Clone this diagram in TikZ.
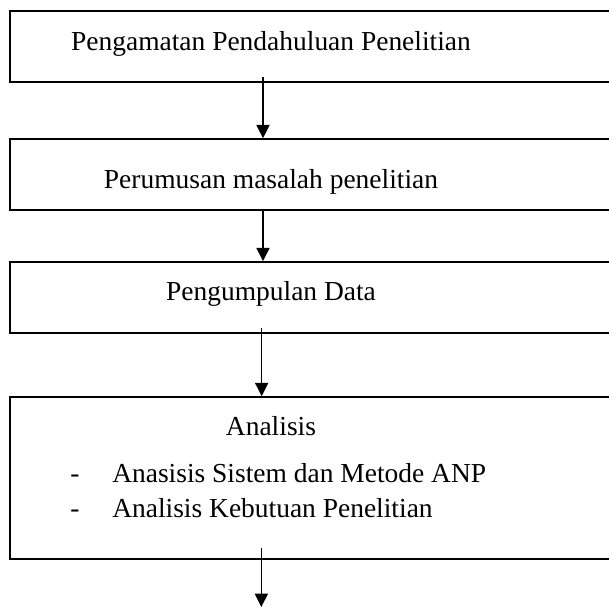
\documentclass[tikz,border=0pt]{standalone}
\usepackage{fontspec}
\setmainfont{Liberation Serif}
\usepackage{tikz}
\usetikzlibrary{arrows.meta,positioning,calc}

\begin{document}
\begin{tikzpicture}[
    >={Triangle[length=10pt,width=9.8pt]},
    font=\fontsize{20.6}{24}\selectfont,
    box/.style={draw, line width=1.2pt, minimum width=482.5pt,
      minimum height=53.25pt, inner sep=0pt},
    tall/.style={box, minimum height=121.5pt},
    lbl/.style={anchor=base, inner sep=0pt},
    item/.style={anchor=base west, inner sep=0pt},
    arr/.style={->, line width=1.2pt},
  ]
  \useasboundingbox (0pt,0pt) rectangle (456.75pt,-455.25pt);

  % Boxes
  \node[box] (obs) at (248.75pt,-34.9pt) {};
  \node[box] (rum) at (248.75pt,-130.9pt) {};
  \node[box] (data) at (248.75pt,-223.1pt) {};
  \node[tall] (anl) at (248.75pt,-358.5pt) {};

  % Texts
  \node[lbl] (obsT) at (203.25pt,-37.5pt) {Pengamatan Pendahuluan Penelitian};
  \node[lbl] (rumT) at (203.25pt,-141pt) {Perumusan masalah penelitian};
  \node[lbl] (dataT) at (203.25pt,-225pt) {Pengumpulan Data};
  \node[lbl] (anlT) at (203.25pt,-326.25pt) {Analisis};
  \node[item] (d1) at (52.5pt,-361.5pt) {-};
  \node[item] (i1) at (84pt,-361.5pt) {Anasisis Sistem dan Metode ANP};
  \node[item] (d2) at (52.5pt,-387.75pt) {-};
  \node[item] (i2) at (84pt,-387.75pt) {Analisis Kebutuan Penelitian};

  \coordinate (next) at (196pt,-455.25pt);

  % Edges
  \draw[arr] ([xshift=-51.5pt,yshift=4.5pt]obs.south) -- ([xshift=-51.5pt]rum.north);
  \draw[arr] ([xshift=-51.5pt]rum.south) -- ([xshift=-51.5pt]data.north);
  \draw[arr] ([xshift=-52.5pt,yshift=4.5pt]data.south) -- ([xshift=-52.5pt]anl.north);
  \draw[arr] ([xshift=-52.75pt,yshift=8.5pt]anl.south) -- (next);
\end{tikzpicture}
\end{document}
